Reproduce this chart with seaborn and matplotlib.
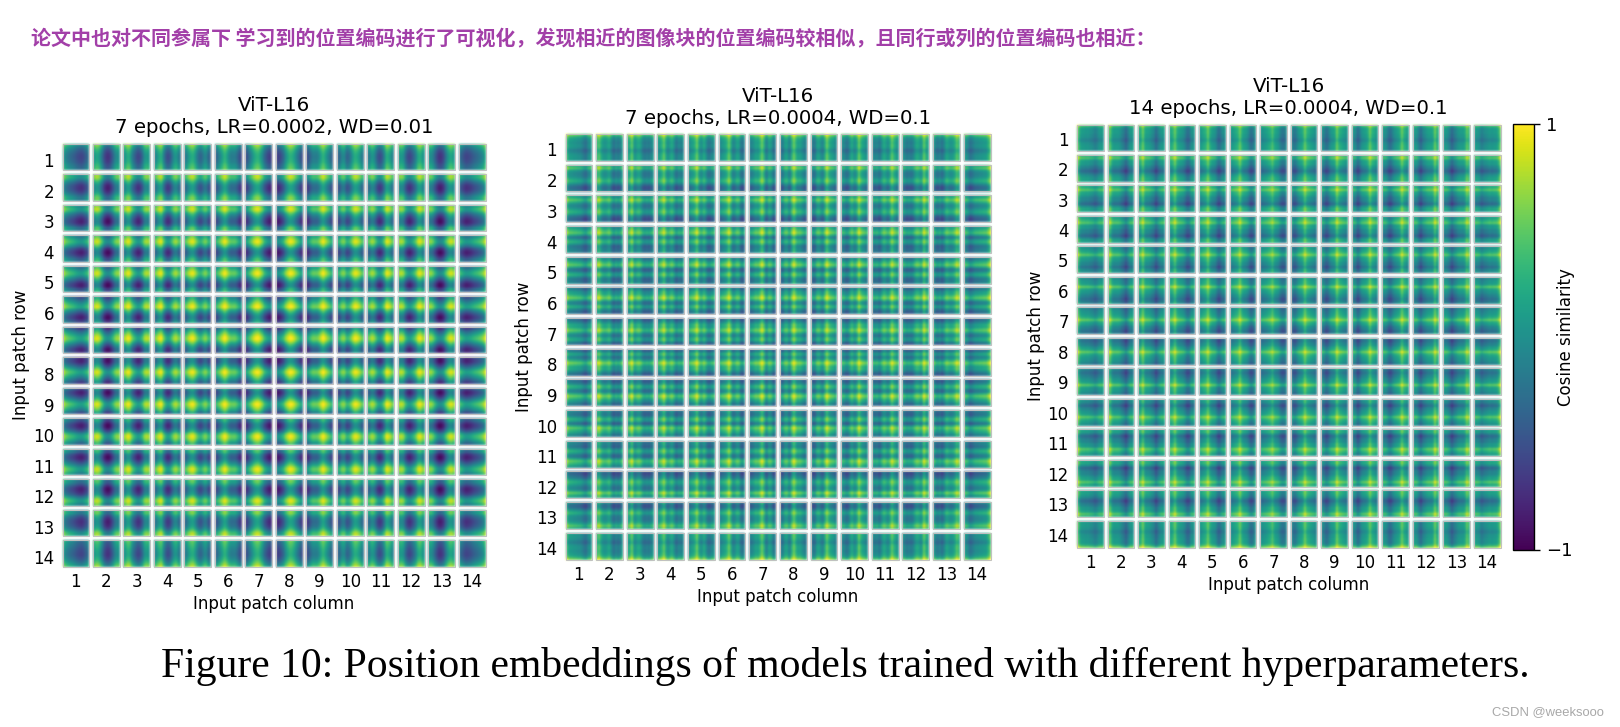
import numpy as np
import matplotlib
matplotlib.use("Agg")
import matplotlib.pyplot as plt
from matplotlib.patches import Rectangle
from matplotlib.transforms import ScaledTranslation
import seaborn as sns

# Per-tile profiles. Each list holds the similarity
# contribution along the 14 output positions for input positions 1-7;
# positions 8-14 are the mirror image, as the picture shows.
rows_a = [
    [.34, .20, .06, -.06, -.14, -.20, -.23, -.23, -.20, -.17, -.11, -.06, .00, .06],
    [.29, .37, .23, .00, -.17, -.29, -.34, -.37, -.34, -.25, -.11, .06, .17, .14],
    [.17, .32, .44, .32, .06, -.14, -.29, -.40, -.46, -.44, -.29, -.09, .06, .09],
    [.06, .25, .40, .46, .32, .09, -.11, -.29, -.44, -.48, -.40, -.25, -.06, .00],
    [-.06, .11, .29, .44, .48, .32, .09, -.11, -.32, -.46, -.48, -.37, -.17, -.09],
    [-.21, -.06, .11, .29, .44, .52, .37, .14, -.09, -.29, -.44, -.48, -.34, -.23],
    [-.32, -.21, -.02, .17, .34, .48, .52, .37, .14, -.09, -.29, -.44, -.46, -.37],
]
cols_a = [
    [.40, .17, .06, -.02, -.09, -.14, -.21, -.29, -.34, -.37, -.37, -.29, -.17, -.06],
    [.25, .40, .40, .25, .00, -.21, -.37, -.48, -.48, -.34, -.14, .09, .21, .21],
    [.21, .34, .48, .40, .11, -.09, -.25, -.37, -.32, -.14, .09, .25, .32, .25],
    [.06, .25, .40, .48, .34, .06, -.21, -.32, -.25, -.02, .21, .29, .14, .00],
    [.00, .14, .32, .44, .48, .32, .09, -.09, -.14, .02, .17, .14, -.06, -.17],
    [-.17, .00, .14, .32, .46, .52, .37, .17, .06, .06, .06, -.06, -.23, -.34],
    [-.32, -.17, .00, .17, .37, .48, .52, .40, .21, .02, -.14, -.29, -.40, -.40],
]
rows_b = [
    [.55, .25, .10, .05, .00, .05, .05, .00, -.15, -.10, .00, .05, .05, .05],
    [.20, .45, .25, .05, -.05, -.05, .00, .15, .25, .10, -.15, -.32, -.32, -.10],
    [.10, .25, .48, .25, .00, -.10, .00, .15, .25, .10, -.15, -.25, -.38, -.30],
    [.00, .20, .35, .48, .20, -.18, -.15, .12, .25, .05, -.22, -.18, -.12, -.10],
    [-.10, .00, .18, .30, .48, .20, -.22, -.18, .12, .25, .00, -.22, -.18, -.10],
    [-.20, -.10, .10, .15, .35, .52, .25, -.12, -.12, .18, .25, -.05, -.22, -.25],
    [-.30, -.20, .00, .18, .15, .35, .55, .30, .00, -.12, .12, .20, -.08, -.30],
]
cols_b = [
    [.45, .20, .05, .05, .00, .00, -.05, -.05, -.12, -.22, -.28, -.12, -.05, .05],
    [.25, .45, .20, .05, .00, .05, .15, .05, -.12, -.28, -.12, -.22, -.15, .05],
    [.10, .25, .48, .15, .00, .12, .18, .05, -.15, -.22, -.15, -.22, -.10, .00],
    [.00, .12, .25, .48, .15, -.05, .08, .18, .00, -.22, -.22, -.08, -.15, -.05],
    [-.05, .05, .12, .25, .52, .15, -.05, .00, .18, .00, -.22, -.22, -.08, -.05],
    [-.10, .00, .05, .12, .25, .52, .20, -.12, -.05, .12, .08, -.22, -.22, -.10],
    [-.15, -.10, .00, .12, .08, .25, .52, .25, -.12, -.12, .12, .08, -.15, -.20],
]
rows_c = [
    [.55, .20, .05, .05, .05, .00, .00, -.10, -.12, .00, .00, .05, .05, .05],
    [.22, .45, .15, .05, .05, -.05, -.12, -.22, -.35, -.22, -.05, .05, .12, .10],
    [.18, .25, .48, .15, .12, .00, -.12, -.12, -.22, -.35, -.18, .00, .18, .10],
    [.05, .18, .30, .45, .15, .05, .05, -.12, -.12, -.22, -.35, -.12, .12, .05],
    [-.05, .05, .12, .25, .48, .15, .05, .00, -.12, -.12, -.35, -.22, -.05, -.05],
    [-.10, .00, .05, .08, .25, .48, .15, .05, .00, -.12, -.18, -.30, -.22, -.10],
    [-.15, -.05, .00, .05, .12, .25, .52, .20, .10, .00, -.12, -.18, -.30, -.20],
]
cols_c = [
    [.48, .15, .05, .05, .00, .05, .00, -.05, -.08, -.18, -.12, .00, .05, .05],
    [.25, .48, .15, .05, .05, .05, .00, -.12, -.20, -.38, -.18, -.05, .05, .05],
    [.15, .25, .52, .15, .10, .10, .05, -.05, -.12, -.35, -.18, -.05, .05, .05],
    [.05, .18, .25, .52, .20, .10, .05, .00, -.12, -.30, -.30, -.12, .00, .00],
    [.00, .10, .18, .25, .52, .20, .10, .05, .00, -.18, -.35, -.18, -.05, .00],
    [.00, .05, .10, .18, .25, .52, .20, .10, .05, -.05, -.25, -.30, -.12, -.05],
    [-.05, .00, .05, .10, .18, .25, .52, .20, .10, .05, -.12, -.25, -.25, -.10],
]
patch_labels = [str(i) for i in range(1, 15)]
titles = ["ViT-L16\n7 epochs, LR=0.0002, WD=0.01",
          "ViT-L16\n7 epochs, LR=0.0004, WD=0.1",
          "ViT-L16\n14 epochs, LR=0.0004, WD=0.1"]
xlabel = "Input patch column"
ylabel = "Input patch row"
cbar_label = "Cosine similarity"
cbar_ticks = [-1, 1]
header = "论文中也对不同参属下 学习到的位置编码进行了可视化，发现相近的图像块的位置编码较相似，且同行或列的位置编码也相近："
caption = "Figure 10: Position embeddings of models trained with different hyperparameters."
watermark = "CSDN @weeksooo"

W, H = 1620, 727
TILE, GAP = 14, 2
sns.set_theme(style="white")
plt.rcParams["font.family"] = ["DejaVu Sans"]
plt.rcParams["text.color"] = "black"
plt.rcParams["axes.labelcolor"] = "black"
plt.rcParams["xtick.color"] = "black"
plt.rcParams["ytick.color"] = "black"

fig = plt.figure(figsize=(W / 100, H / 100), dpi=100, facecolor="white")


def px_axes(x0, y0, x1, y1):
    return fig.add_axes([x0 / W, 1 - y1 / H, (x1 - x0) / W, (y1 - y0) / H])


def full_table(half):
    half = np.array(half)
    return np.vstack([half, half[::-1, ::-1]])


def mosaic(rows, cols):
    r_tab, c_tab = full_table(rows), full_table(cols)
    size = 14 * TILE + 13 * GAP
    m = np.full((size, size), np.nan)
    for r in range(14):
        for c in range(14):
            y0, x0 = r * (TILE + GAP), c * (TILE + GAP)
            m[y0:y0 + TILE, x0:x0 + TILE] = r_tab[r][:, None] + c_tab[c][None, :]
    return m


KERNEL = np.array([0.06, 0.24, 0.40, 0.24, 0.06])


def soften(image, dpi):
    """Display filter: a small blur like the soft scaling of the reference."""
    pad = 4
    img = np.pad(image, ((pad, pad), (pad, pad), (0, 0)))
    alpha = img[..., 3:4]
    stack = np.concatenate([img[..., :3] * alpha, alpha], axis=2)
    for axis in (0, 1):
        stack = sum(w * np.roll(stack, s, axis=axis) for w, s in zip(KERNEL, range(-2, 3)))
    a = stack[..., 3:4]
    rgb = np.where(a > 1e-4, stack[..., :3] / np.maximum(a, 1e-4), 1.0)
    return np.concatenate([np.clip(rgb, 0, 1), a], axis=2), -pad, -pad


panels = [(rows_a, cols_a, (62.5, 143.5, 485.5, 567), 2.5, 7.5),
          (rows_b, cols_b, (565.5, 134, 990.5, 559.5), 1.5, 7),
          (rows_c, cols_c, (1077, 124.5, 1500.5, 547.5), 0.5, 7.5)]
cax = px_axes(1513, 124, 1534, 549.5)

for i, (rows, cols, box, ydrop, title_pad) in enumerate(panels):
    ax = px_axes(*box)
    last = i == 2
    sns.heatmap(mosaic(rows, cols), ax=ax, cmap="viridis", vmin=-1, vmax=1,
                cbar=last, cbar_ax=cax if last else None,
                cbar_kws={"ticks": cbar_ticks} if last else None,
                xticklabels=False, yticklabels=False)
    mesh = ax.collections[0]
    mesh.set_agg_filter(soften)
    centres = [k * (TILE + GAP) + TILE / 2 for k in range(14)]
    ax.set_xticks(centres, patch_labels, rotation=0, fontsize=12)
    ax.set_yticks(centres, patch_labels, rotation=0, fontsize=12)
    ax.tick_params(axis="x", length=0, pad=4.5)
    ax.tick_params(axis="y", length=0, pad=6)
    shift = ScaledTranslation(0, -ydrop / 72, fig.dpi_scale_trans)
    for lab in ax.get_yticklabels():
        lab.set_transform(lab.get_transform() + shift)
    ax.set_xlabel(xlabel, fontsize=12, labelpad=3)
    ax.set_ylabel(ylabel, fontsize=12, labelpad=2)
    ax.set_title(titles[i], fontsize=14.2, pad=title_pad, linespacing=1.19)
    for r in range(14):
        for c in range(14):
            ax.add_patch(Rectangle((c * (TILE + GAP), r * (TILE + GAP)), TILE, TILE,
                                   fill=False, ec="#c0c0c0", lw=0.7, clip_on=False))

cb = ax.collections[0].colorbar
cb.set_ticks(cbar_ticks, labels=["\u22121", "1"])
cb.ax.tick_params(length=4.5, width=1, labelsize=13, pad=4, color="black", labelcolor="black")
cb.set_label(cbar_label, fontsize=12, labelpad=-11, color="black")
cb.outline.set_visible(True)
cb.outline.set_edgecolor("black")
cb.outline.set_linewidth(1)

fig.text(31 / W, 1 - 38 / H, header, color="#a23fa8", fontsize=14.4, fontweight="bold",
         family=["Noto Sans CJK SC", "DejaVu Sans"], va="center", ha="left")
fig.text(161 / W, 1 - 667 / H, caption, color="black", fontsize=30,
         family="Liberation Serif", va="center", ha="left")
fig.text(1492 / W, 1 - 712 / H, watermark, color="#a8a8a8", fontsize=9.4,
         family="Liberation Sans", va="center", ha="left")

fig.savefig("out.png", dpi=100, facecolor="white")
